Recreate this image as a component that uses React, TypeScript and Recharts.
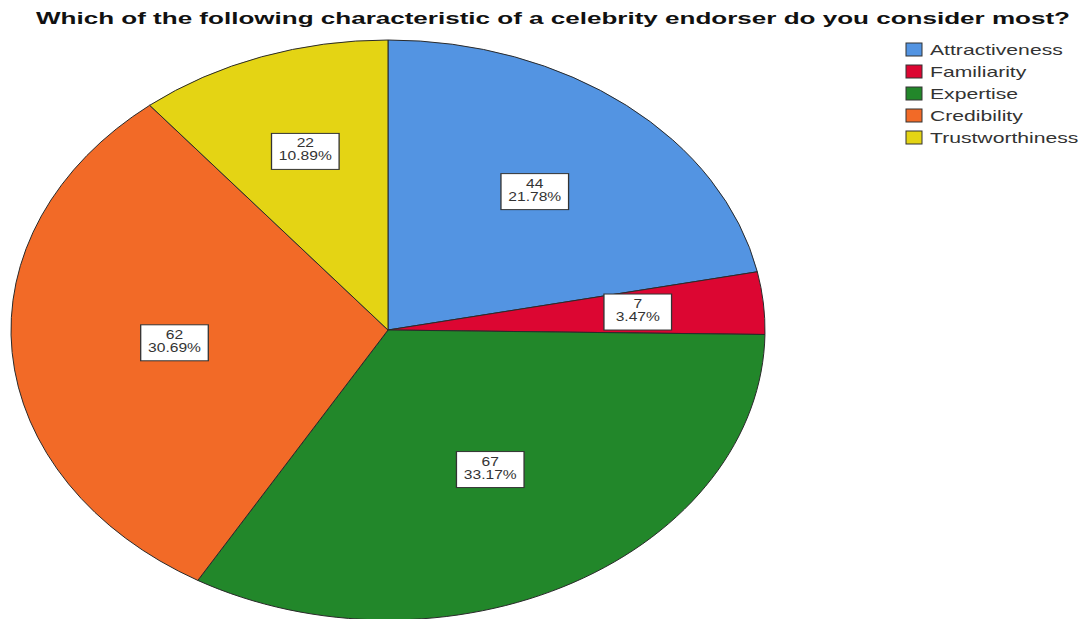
import { PieChart, Pie, Cell, Legend } from 'recharts';

const categories = ['Attractiveness', 'Familiarity', 'Expertise', 'Credibility', 'Trustworthiness'];
const counts = [44, 7, 67, 62, 22];
const colors = ['#5394e2', '#dc0632', '#22872a', '#f26a27', '#e4d414'];

const title = 'Which of the following characteristic of a celebrity endorser do you consider most?';

const data = categories.map((name, i) => ({ name, value: counts[i] }));

const RX = 377;
const RY = 290;
const SX = 1.3; // horizontal stretch of the source image

const rad = (deg: number) => (deg * Math.PI) / 180;

// elliptical sector instead of the circular one
function EllipseSector(props: any) {
  const { cx, cy, startAngle, endAngle, outerRadius, fill } = props;
  const rx = outerRadius;
  const ry = (outerRadius * RY) / RX;
  const x1 = cx + rx * Math.cos(rad(startAngle));
  const y1 = cy - ry * Math.sin(rad(startAngle));
  const x2 = cx + rx * Math.cos(rad(endAngle));
  const y2 = cy - ry * Math.sin(rad(endAngle));
  const large = Math.abs(endAngle - startAngle) > 180 ? 1 : 0;
  const sweep = startAngle > endAngle ? 1 : 0;
  const d = `M${cx},${cy} L${x1},${y1} A${rx},${ry} 0 ${large} ${sweep} ${x2},${y2} Z`;
  return <path d={d} fill={fill} stroke="#2a2a2a" strokeWidth={1} />;
}

function renderLabel(props: any) {
  const { cx, cy, midAngle, outerRadius, percent, value } = props;
  const theta = percent * 2 * Math.PI;
  const f = (4 * Math.sin(theta / 2)) / (3 * theta);
  const rx = outerRadius;
  const ry = (outerRadius * RY) / RX;
  const x = cx + rx * f * Math.cos(rad(midAngle));
  const y = cy - ry * f * Math.sin(rad(midAngle));
  return (
    <g transform={`translate(${x},${y}) scale(${SX},1)`}>
      <rect x={-26} y={-18} width={52} height={36} fill="#ffffff" stroke="#333" strokeWidth={1} />
      <text x={0} y={-4} textAnchor="middle" fontSize={12} fill="#333" fontFamily="Liberation Sans, Arial, sans-serif">
        {value}
      </text>
      <text x={0} y={9} textAnchor="middle" fontSize={12} fill="#333" fontFamily="Liberation Sans, Arial, sans-serif">
        {(percent * 100).toFixed(2)}%
      </text>
    </g>
  );
}

function renderLegend() {
  return (
    <svg width={182} height={120}>
      {categories.map((name, i) => (
        <g key={name} transform={`translate(0,${i * 22})`}>
          <rect x={6} y={5} width={16} height={13} fill={colors[i]} stroke="#333" strokeWidth={1} />
          <text
            x={0}
            y={17}
            fontSize={15}
            fill="#333"
            fontFamily="Liberation Sans, Arial, sans-serif"
            transform={`translate(30,0) scale(1.41,1)`}
          >
            {name}
          </text>
        </g>
      ))}
    </svg>
  );
}

export default function App() {
  return (
    <div style={{ position: 'absolute', left: 0, top: 0, width: 1082, height: 619, background: '#fff' }}>
      <svg width={1082} height={34} style={{ position: 'absolute', left: 0, top: 0 }}>
        <text
          x={36}
          y={24}
          fontSize={17}
          fontWeight="bold"
          fill="#111"
          fontFamily="Liberation Sans, Arial, sans-serif"
          textLength={1034}
          lengthAdjust="spacingAndGlyphs"
        >
          {title}
        </text>
      </svg>
      <PieChart width={1082} height={619} margin={{ top: 0, right: 0, bottom: 0, left: 0 }}>
        <Pie
          data={data}
          dataKey="value"
          nameKey="name"
          cx={388}
          cy={330}
          outerRadius={RX}
          startAngle={90}
          endAngle={-270}
          shape={EllipseSector}
          label={renderLabel}
          labelLine={false}
          isAnimationActive={false}
        >
          {data.map((d, i) => (
            <Cell key={d.name} fill={colors[i]} />
          ))}
        </Pie>
        <Legend
          content={renderLegend}
          wrapperStyle={{ position: 'absolute', left: 900, top: 38, width: 182 }}
        />
      </PieChart>
    </div>
  );
}
